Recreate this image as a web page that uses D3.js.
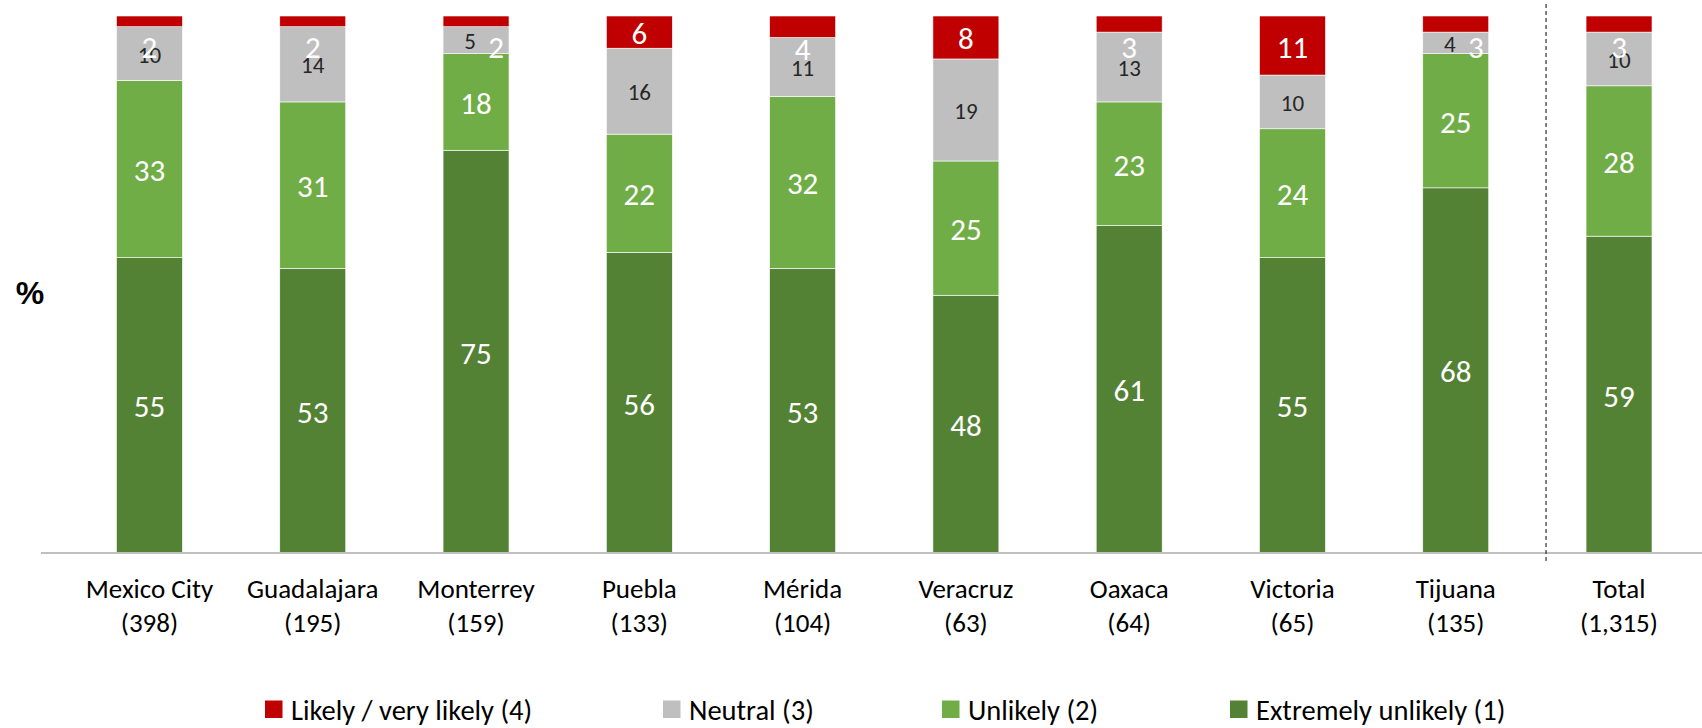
<!DOCTYPE html>
<html>
<head>
<meta charset="utf-8">
<script src="https://cdn.jsdelivr.net/npm/d3@7"></script>
<style>
  body { margin: 0; background: #fff; }
  svg text { font-family: Carlito, "Liberation Sans Narrow", "Open Sans", sans-serif; }
</style>
</head>
<body>
<svg id="chart" width="1702" height="728"></svg>
<script>
// categories and sample sizes
var cities = ["Mexico City", "Guadalajara", "Monterrey", "Puebla", "Mérida",
  "Veracruz", "Oaxaca", "Victoria", "Tijuana", "Total"];
var sampleSizes = ["(398)", "(195)", "(159)", "(133)", "(104)",
  "(63)", "(64)", "(65)", "(135)", "(1,315)"];

// series values, % of respondents
var extremelyUnlikely = [55, 53, 75, 56, 53, 48, 61, 55, 68, 59];
var unlikely = [33, 31, 18, 22, 32, 25, 23, 24, 25, 28];
var neutral = [10, 14, 5, 16, 11, 19, 13, 10, 4, 10];
var likely = [2, 2, 2, 6, 4, 8, 3, 11, 3, 3];

var seriesNames = ["Likely / very likely (4)", "Neutral (3)", "Unlikely (2)", "Extremely unlikely (1)"];
var seriesKeys = ["ext", "unl", "neu", "lik"];
var colors = { ext: "#548235", unl: "#70AD47", neu: "#BFBFBF", lik: "#C00000" };
var labelColors = { ext: "#ffffff", unl: "#ffffff", neu: "#262626", lik: "#ffffff" };

var rows = cities.map(function(c, i) {
  return { city: c, n: sampleSizes[i], ext: extremelyUnlikely[i], unl: unlikely[i],
    neu: neutral[i], lik: likely[i] };
});

var svg = d3.select("#chart");
var W = 1702, H = 728;

var x = d3.scaleBand().domain(cities)
  .range([67.5, 1701]).paddingInner(0.596).paddingOuter(0.3);
var y = d3.scaleLinear().domain([0, 100]).range([553, 16]);

var stack = d3.stack().keys(seriesKeys)(rows);

// bars
var layers = svg.selectAll("g.layer").data(stack).enter().append("g")
  .attr("class", "layer")
  .attr("fill", function(s) { return colors[s.key]; });

layers.selectAll("rect").data(function(s) { return s; })
  .enter().append("rect")
    .attr("x", function(d) { return x(d.data.city); })
    .attr("y", function(d) { return y(d[1]); })
    .attr("width", x.bandwidth())
    .attr("height", function(d) { return y(d[0]) - y(d[1]); })
    .attr("stroke", "#ffffff")
    .attr("stroke-width", 0.6);

// value labels (small "likely" labels sit just under the red cap, like the source)
stack.forEach(function(s) {
  svg.append("g").selectAll("text").data(s).enter().append("text")
    .attr("text-anchor", "middle")
    .attr("dominant-baseline", "central")
    .attr("fill", labelColors[s.key])
    .attr("font-size", s.key === "neu" ? 23 : 31)
    .attr("x", function(d) {
      var cx = x(d.data.city) + x.bandwidth() / 2;
      if (d.data.neu < 6 && s.key === "lik") return cx + 20;
      if (d.data.neu < 6 && s.key === "neu") return cx - 6;
      return cx;
    })
    .attr("y", function(d) {
      var mid = (y(d[0]) + y(d[1])) / 2;
      if (s.key === "lik" && d.data.lik < 5) return Math.max(y(d[0]) + 12, 47);
      return mid + 1;
    })
    .text(function(d) { return d.data[s.key]; });
});

// baseline
svg.append("line")
  .attr("x1", 41).attr("x2", W)
  .attr("y1", 553).attr("y2", 553)
  .attr("stroke", "#bfbfbf").attr("stroke-width", 2);

// divider before Total
var divX = x("Total") - 40;
svg.append("line")
  .attr("x1", divX).attr("x2", divX)
  .attr("y1", 4).attr("y2", 562)
  .attr("stroke", "#404040").attr("stroke-width", 1.3)
  .attr("stroke-dasharray", "4,3");

// category labels
var xAxis = svg.append("g");
cities.forEach(function(c, i) {
  var cx = x(c) + x.bandwidth() / 2;
  var t = xAxis.append("text")
    .attr("text-anchor", "middle")
    .attr("font-size", 27)
    .attr("fill", "#000");
  t.append("tspan").attr("x", cx).attr("y", 598).text(c);
  t.append("tspan").attr("x", cx).attr("y", 632).text(sampleSizes[i]);
});

// axis title
svg.append("text")
  .attr("x", 30).attr("y", 293)
  .attr("text-anchor", "middle").attr("dominant-baseline", "central")
  .attr("font-size", 32).attr("font-weight", "bold")
  .style("font-family", "'Liberation Sans', Arial, sans-serif")
  .text("%");

// legend
var legendX = [265, 663, 942, 1230];
var legendKeys = ["lik", "neu", "unl", "ext"];
var legend = svg.append("g").selectAll("g").data(seriesNames).enter().append("g")
  .attr("transform", function(d, i) { return "translate(" + legendX[i] + ",709)"; });
legend.append("rect")
  .attr("x", 0).attr("y", -8.5).attr("width", 17.5).attr("height", 17.5)
  .attr("fill", function(d, i) { return colors[legendKeys[i]]; });
legend.append("text")
  .attr("x", 26).attr("y", 11)
  .attr("font-size", 28.5)
  .attr("fill", "#000")
  .text(function(d) { return d; });
</script>
</body>
</html>
